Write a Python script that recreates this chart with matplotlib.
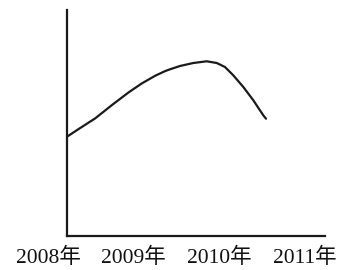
import matplotlib
matplotlib.use("Agg")
import matplotlib.pyplot as plt

years = [2008, 2009, 2010, 2011]
year_labels = ["2008年", "2009年", "2010年", "2011年"]

# curve (x in years, y in arbitrary height units)
curve_x = [2008.222, 2008.358, 2008.552, 2008.747, 2008.942, 2009.097, 2009.252,
           2009.369, 2009.424, 2009.540, 2009.696, 2009.852, 2009.969, 2010.065,
           2010.162, 2010.279, 2010.396, 2010.512, 2010.544]
curve_y = [99.3, 107.0, 117.7, 131.0, 143.7, 152.7, 160.3,
           165.0, 166.7, 170.0, 173.0, 174.7, 173.0, 169.0,
           160.7, 149.0, 135.7, 120.7, 117.3]

plt.rcParams['font.family'] = ['Liberation Serif', 'Noto Sans CJK SC', 'DejaVu Sans']

W, H = 344, 270
fig = plt.figure(figsize=(W / 100, H / 100), dpi=100)
ax_bottom_px, ax_top_px = 236, 10
ax = fig.add_axes([0, (H - ax_bottom_px) / H, 1, (ax_bottom_px - ax_top_px) / H])

axis_start = 2008.222
axis_end = 2011.232
ax.set_xlim(2007.44, 2011.454)
ax.set_ylim(0, 226)

color = "#1a1a1a"
ax.plot(curve_x, curve_y, color=color, lw=1.6, solid_joinstyle='round', solid_capstyle='round')

for s in ['top', 'right']:
    ax.spines[s].set_visible(False)
ax.spines['left'].set_position(('data', axis_start))
ax.spines['bottom'].set_bounds(axis_start, axis_end)
for s in ['left', 'bottom']:
    ax.spines[s].set_color(color)
    ax.spines[s].set_linewidth(1.6)

ax.set_yticks([])
ax.set_xticks(years)
ax.set_xticklabels(year_labels, fontsize=15.5, color="#111111")
ax.tick_params(axis='x', length=0, pad=8.5)
ax.patch.set_alpha(0)

fig.savefig("out.png", dpi=100, facecolor="white")
